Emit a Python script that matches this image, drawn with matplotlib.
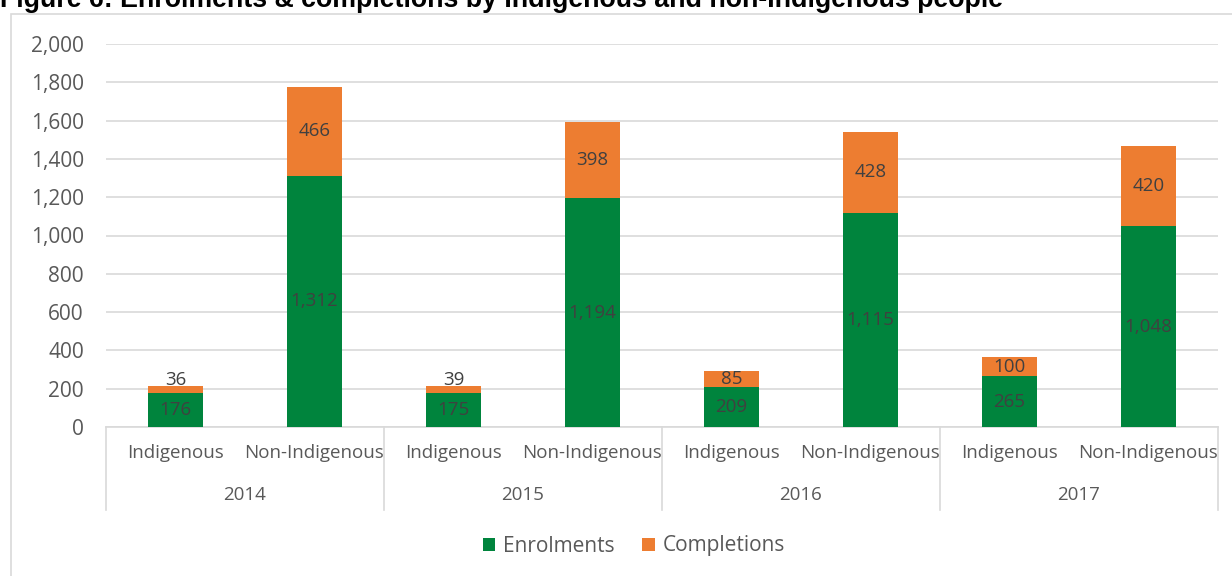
import matplotlib
matplotlib.use("Agg")
import matplotlib.pyplot as plt
from matplotlib.patches import Rectangle
from matplotlib.lines import Line2D
import numpy as np

years = ["2014", "2015", "2016", "2017"]
groups = ["Indigenous", "Non-Indigenous"]
enrolments = [176, 1312, 175, 1194, 209, 1115, 265, 1048]
completions = [36, 466, 39, 398, 85, 428, 100, 420]
y_ticks = [0, 200, 400, 600, 800, 1000, 1200, 1400, 1600, 1800, 2000]

GREEN = "#00843D"
ORANGE = "#ED7D31"
TEXT = "#595959"
LABEL = "#404040"
GRID = "#D9D9D9"
FONT = "Open Sans"

plt.rcParams["font.family"] = [FONT, "DejaVu Sans"]

fig = plt.figure(figsize=(12.32, 5.76), dpi=100)
W, H = 1232, 576

def fx(px):
    return px / W

def fy(py):
    return 1 - py / H

# outer chart frame
fig.patches.append(Rectangle((fx(11), fy(590)), fx(1240) - fx(11), fy(14) - fy(590),
                             transform=fig.transFigure, fill=False,
                             edgecolor=GRID, linewidth=1.2))

# title (sits above the frame)
fig.text(fx(0), fy(7), "Figure 6: Enrolments & completions by Indigenous and non-Indigenous people",
         fontsize=19.3, fontweight="bold", family="Liberation Sans", color="black",
         ha="left", va="baseline")

ax = fig.add_axes([fx(106), fy(427), fx(1218) - fx(106), fy(44) - fy(427)])

n = len(enrolments)
x = np.arange(n)
width = 0.4
ax.bar(x, enrolments, width, color=GREEN, label="Enrolments", zorder=3)
ax.bar(x, completions, width, bottom=enrolments, color=ORANGE, label="Completions", zorder=3)

for i in range(n):
    e, c = enrolments[i], completions[i]
    ax.text(x[i], e / 2, f"{e:,}", ha="center", va="center", fontsize=13.5,
            color=LABEL, zorder=4)
    cy = e + c / 2
    if c < 60:
        cy = e + 72
    ax.text(x[i], cy, f"{c:,}", ha="center", va="center", fontsize=13.5,
            color=LABEL, zorder=4)

ax.set_xlim(-0.5, n - 0.5)
ax.set_ylim(0, 2000)
ax.set_yticks(y_ticks)
ax.set_yticklabels([f"{v:,}" for v in y_ticks])
ax.tick_params(axis="y", length=0, pad=16, labelsize=15, labelcolor=TEXT)
ax.set_xticks([])
ax.grid(axis="y", color=GRID, linewidth=1.2, zorder=0)
for s in ax.spines.values():
    s.set_visible(False)

# multi-level category axis
trans = ax.get_xaxis_transform()
ax.add_line(Line2D([-0.5, n - 0.5], [0, 0], transform=trans, color=GRID,
                   linewidth=1.2, clip_on=False, zorder=2))
px_per_axes = fy(44) - fy(427)
depth = -(510 - 427) / H / px_per_axes
for b in np.arange(-0.5, n, 2):
    ax.add_line(Line2D([b, b], [0, depth], transform=trans, color=GRID,
                       linewidth=1.2, clip_on=False))
sub_y = -(453 - 427) / H / px_per_axes
year_y = -(495 - 427) / H / px_per_axes
for i in range(n):
    ax.text(x[i], sub_y, groups[i % 2], transform=trans, ha="center", va="center",
            fontsize=13.5, color=TEXT)
for j, yr in enumerate(years):
    ax.text(2 * j + 0.5, year_y, yr, transform=trans, ha="center", va="center",
            fontsize=13.5, color=TEXT)

leg = fig.legend(loc="center", bbox_to_anchor=(fx(634), fy(546)), ncol=2, frameon=False,
                 fontsize=15, labelcolor=TEXT, handlelength=0.6, handleheight=0.6,
                 handletextpad=0.4, columnspacing=1.3)

fig.savefig("out.png", dpi=100)
